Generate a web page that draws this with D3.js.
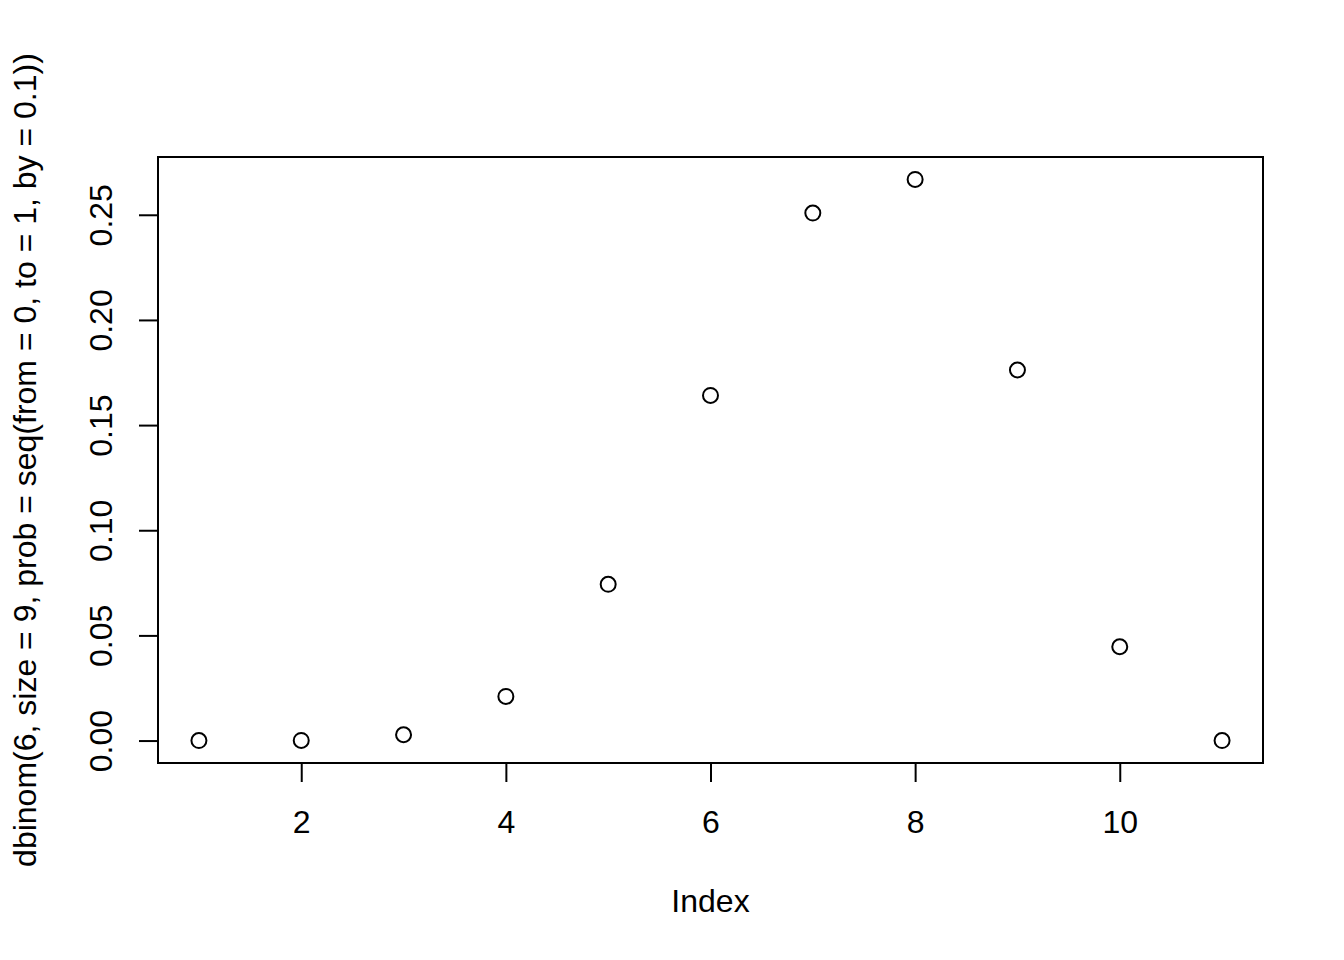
<!DOCTYPE html>
<html>
<head>
<meta charset="utf-8">
<script src="https://cdn.jsdelivr.net/npm/d3@7"></script>
<style>
  html, body { margin: 0; padding: 0; background: #fff; }
  svg text { font-family: "Liberation Sans", Arial, Helvetica, sans-serif; font-size: 32px; fill: #000; }
</style>
</head>
<body>
<svg id="chart"></svg>
<script>
// dbinom(6, size = 9, prob = seq(0, 1, by = 0.1)), plotted against index
const index = [1, 2, 3, 4, 5, 6, 7, 8, 9, 10, 11];
const probs = [0, 0.0000612, 0.00275, 0.0210, 0.0743, 0.1641, 0.2508, 0.2668, 0.1762, 0.0446, 0];
const xTicks = [2, 4, 6, 8, 10];
const yTicks = [0, 0.05, 0.10, 0.15, 0.20, 0.25];

const width = 1344, height = 960;
const box = { left: 158, right: 1263, top: 157, bottom: 763 };

const svg = d3.select('#chart')
  .attr('width', width)
  .attr('height', height);

// R style 4% padding on both ends of the data range
function rDomain(vals) {
  const lo = d3.min(vals), hi = d3.max(vals), pad = (hi - lo) * 0.04;
  return [lo - pad, hi + pad];
}

const x = d3.scaleLinear().domain(rDomain(index)).range([box.left, box.right]);
const y = d3.scaleLinear().domain(rDomain(probs)).range([box.bottom, box.top]);

// x axis
const xAxis = svg.append('g')
  .attr('transform', `translate(0,${box.bottom})`)
  .call(d3.axisBottom(x).tickValues(xTicks).tickSize(19).tickPadding(28).tickFormat(d3.format('d')));

// y axis
const yAxis = svg.append('g')
  .attr('transform', `translate(${box.left},0)`)
  .call(d3.axisLeft(y).tickValues(yTicks).tickSize(19).tickFormat(d3.format('.2f')));

[xAxis, yAxis].forEach(g => {
  g.select('.domain').remove();
  g.selectAll('line').attr('stroke', '#000').attr('stroke-width', 2);
  g.selectAll('text').attr('font-size', 32).attr('font-family', '"Liberation Sans", Arial, sans-serif').attr('fill', '#000');
});

// R draws axis lines only between first and last tick
xAxis.append('line')
  .attr('x1', x(xTicks[0])).attr('x2', x(xTicks[xTicks.length - 1]))
  .attr('stroke', '#000').attr('stroke-width', 2);
yAxis.append('line')
  .attr('y1', y(yTicks[0])).attr('y2', y(yTicks[yTicks.length - 1]))
  .attr('stroke', '#000').attr('stroke-width', 2);

// rotated y tick labels, reading bottom to top
yAxis.selectAll('.tick text')
  .attr('x', null).attr('dy', null)
  .attr('text-anchor', 'middle')
  .attr('transform', 'translate(-46,0) rotate(-90)');

xAxis.selectAll('.tick text').attr('dy', null).attr('y', 70);

// plot box
svg.append('rect')
  .attr('x', box.left).attr('y', box.top)
  .attr('width', box.right - box.left).attr('height', box.bottom - box.top)
  .attr('fill', 'none').attr('stroke', '#000').attr('stroke-width', 2);

// points (pch = 1)
svg.append('g')
  .selectAll('circle')
  .data(index.map((d, i) => ({ i: d, p: probs[i] })))
  .enter()
  .append('circle')
  .attr('cx', d => x(d.i))
  .attr('cy', d => y(d.p))
  .attr('r', 7.5)
  .attr('fill', 'none')
  .attr('stroke', '#000')
  .attr('stroke-width', 2);

// axis titles
svg.append('text')
  .attr('x', (box.left + box.right) / 2)
  .attr('y', 912)
  .attr('text-anchor', 'middle')
  .text('Index');

svg.append('text')
  .attr('transform', `translate(36,${(box.top + box.bottom) / 2}) rotate(-90)`)
  .attr('text-anchor', 'middle')
  .text('dbinom(6, size = 9, prob = seq(from = 0, to = 1, by = 0.1))');
</script>
</body>
</html>
